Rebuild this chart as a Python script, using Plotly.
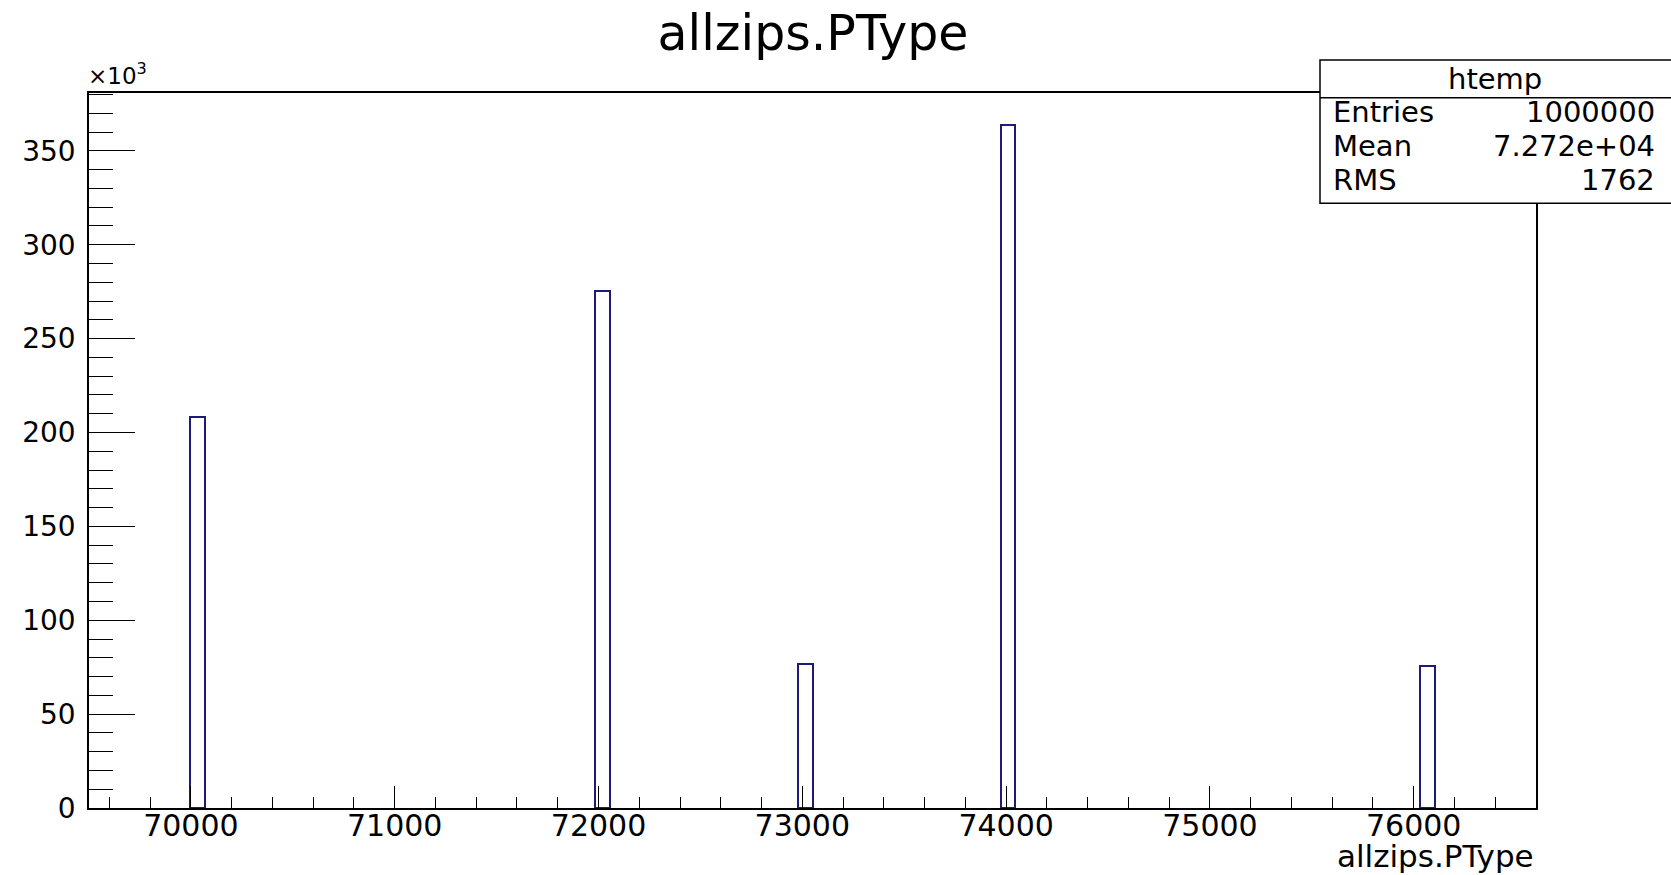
import numpy as np
import plotly.graph_objects as go

# Histogram content: PType code and entries in the bin that holds it
ptype_codes = [70000, 72000, 73000, 74000, 76050]
entries = [208000, 275400, 76700, 363900, 75700]

# Binning of the htemp histogram
nbins = 100
xmin, xmax = 69500, 76600

# Statistics box
stats_name = "htemp"
stats_labels = ["Entries", "Mean", "RMS"]
stats_values = ["1000000", "7.272e+04", "1762"]

y_tick_vals = [0, 50000, 100000, 150000, 200000, 250000, 300000, 350000]
y_tick_text = [str(v // 1000) for v in y_tick_vals]

bin_w = (xmax - xmin) / nbins
idx = np.floor((np.array(ptype_codes) - xmin) / bin_w)
centers = xmin + (idx + 0.5) * bin_w

FONT = "DejaVu Sans"
W, H = 1671, 875
L, R, T, B = 89, 1536, 93, 808


def px(x):
    return (x - L) / (R - L)


def py(y):
    return (B - y) / (B - T)


fig = go.Figure()
fig.add_trace(go.Bar(
    x=centers,
    y=entries,
    width=bin_w,
    marker=dict(color="white", line=dict(color="#1c1c78", width=2)),
    hoverinfo="x+y",
))

shapes = [
    dict(type="rect", xref="paper", yref="paper",
         x0=px(1320), x1=px(1720), y0=py(203.3), y1=py(60),
         fillcolor="white", line=dict(color="black", width=1.5), layer="above"),
    dict(type="line", xref="paper", yref="paper",
         x0=px(1320), x1=px(1720), y0=py(97.7), y1=py(97.7),
         line=dict(color="black", width=1.5), layer="above"),
]

annotations = [
    dict(text=stats_name, xref="paper", yref="paper", x=px(1495), y=py(79),
         xanchor="center", yanchor="middle", showarrow=False,
         font=dict(family=FONT, size=29, color="black")),
    dict(text="×10<sup>3</sup>", xref="paper", yref="paper", x=px(86), y=py(91),
         xanchor="left", yanchor="bottom", showarrow=False,
         font=dict(family=FONT, size=23, color="black")),
    dict(text="allzips.PType", xref="paper", yref="paper", x=1, y=py(856),
         xanchor="right", yanchor="middle", showarrow=False,
         font=dict(family=FONT, size=31, color="black")),
]
row_y = [112, 146, 180]
for lab, val, yy in zip(stats_labels, stats_values, row_y):
    annotations.append(dict(text=lab, xref="paper", yref="paper", x=px(1331), y=py(yy),
                            xanchor="left", yanchor="middle", showarrow=False,
                            font=dict(family=FONT, size=29, color="black")))
    annotations.append(dict(text=val, xref="paper", yref="paper", x=px(1657), y=py(yy),
                            xanchor="right", yanchor="middle", showarrow=False,
                            font=dict(family=FONT, size=29, color="black")))

fig.update_layout(
    width=W, height=H,
    margin=dict(l=L, r=W - R, t=T, b=H - B, pad=0),
    paper_bgcolor="white", plot_bgcolor="white",
    showlegend=False,
    bargap=0,
    title=dict(text="allzips.PType", x=813 / W, xanchor="center",
               y=1 - 33 / H, yanchor="middle", yref="container",
               font=dict(family=FONT, size=49, color="black")),
    xaxis=dict(
        range=[xmin, xmax], showgrid=False, zeroline=False,
        showline=True, linecolor="black", linewidth=1.5, mirror=True,
        ticks="inside", ticklen=22, tickwidth=1.3, tickcolor="black",
        tick0=70000, dtick=1000, tickformat="d",
        minor=dict(ticks="inside", ticklen=11, dtick=200, tick0=70000,
                   tickcolor="black", tickwidth=1.3, showgrid=False),
        tickfont=dict(family=FONT, size=30, color="black"),
        ticklabelstandoff=-10,
    ),
    yaxis=dict(
        range=[0, 380800], showgrid=False, zeroline=False,
        showline=True, linecolor="black", linewidth=1.5, mirror=True,
        ticks="inside", ticklen=46, tickwidth=1.3, tickcolor="black",
        tickvals=y_tick_vals, ticktext=y_tick_text,
        minor=dict(ticks="inside", ticklen=24, dtick=10000, tick0=0,
                   tickcolor="black", tickwidth=1.3, showgrid=False),
        tickfont=dict(family=FONT, size=28, color="black"),
        ticklabelstandoff=6,
    ),
    shapes=shapes,
    annotations=annotations,
)

fig.write_html("out.html", config={"displayModeBar": False})
